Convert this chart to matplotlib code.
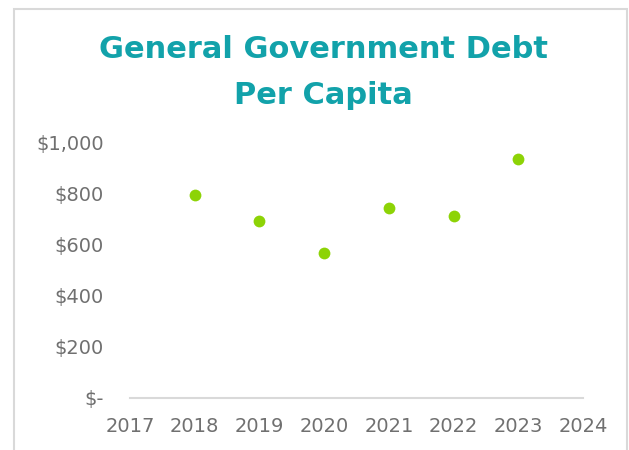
import matplotlib.pyplot as plt
from matplotlib.patches import Rectangle
from matplotlib.ticker import FuncFormatter

years = [2018, 2019, 2020, 2021, 2022, 2023]
debt_per_capita = [796, 694, 569, 745, 714, 937]
year_ticks = [2017, 2018, 2019, 2020, 2021, 2022, 2023, 2024]
debt_ticks = [0, 200, 400, 600, 800, 1000]

teal = '#12A2AA'
green = '#8DD306'
grey_text = '#707070'
grey_line = '#D9D9D9'

plt.rcParams['font.family'] = ['DejaVu Sans']

fig = plt.figure(figsize=(6.29, 4.5), dpi=100)
ax = fig.add_axes([0.2067, 0.1156, 0.7202, 0.5667])

ax.scatter(years, debt_per_capita, s=72, color=green, zorder=3, linewidths=0)


def dollars(v, pos):
    if v == 0:
        return '$-'
    return f'${v:,.0f}'


ax.set_xlim(2017, 2024)
ax.set_ylim(0, 1000)
ax.set_xticks(year_ticks)
ax.set_yticks(debt_ticks)
ax.yaxis.set_major_formatter(FuncFormatter(dollars))
ax.tick_params(axis='both', length=0, labelsize=14, labelcolor=grey_text)
ax.tick_params(axis='y', pad=19)
ax.tick_params(axis='x', pad=14)
ax.set_clip_on(False)

for side in ['top', 'right', 'left']:
    ax.spines[side].set_visible(False)
ax.spines['bottom'].set_color(grey_line)
ax.spines['bottom'].set_linewidth(1.5)

fig.text(0.514, 0.891, 'General Government Debt', ha='center', va='center',
         fontsize=22, fontweight='bold', color=teal)
fig.text(0.514, 0.787, 'Per Capita', ha='center', va='center',
         fontsize=22, fontweight='bold', color=teal)

# light border around the chart area
fig.patches.append(Rectangle((14 / 629, -0.05), 613 / 629, 1.05 - 9 / 450,
                             transform=fig.transFigure, fill=False,
                             edgecolor=grey_line, linewidth=1.5))

fig.savefig('out.png', dpi=100)
